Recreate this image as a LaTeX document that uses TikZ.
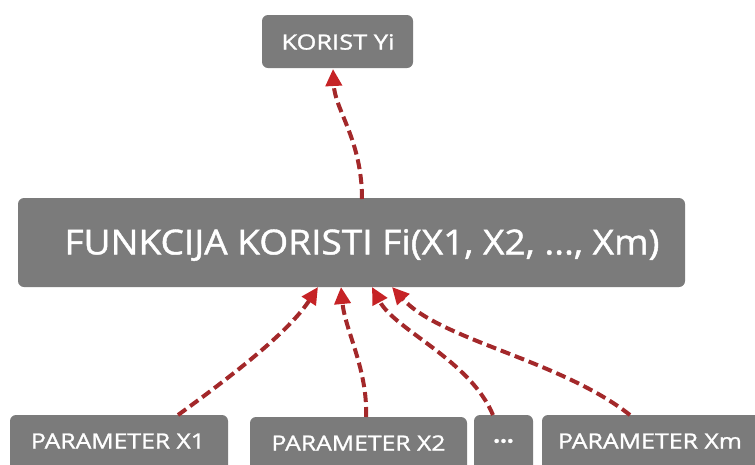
\documentclass[tikz,border=0pt]{standalone}
\usepackage{fontspec}
\setmainfont{Open Sans}
\newfontfamily\semi[FakeBold=1.2]{Open Sans}
\usetikzlibrary{arrows.meta}
\definecolor{boxgray}{HTML}{7B7B7B}
\definecolor{arrred}{HTML}{A3282A}
\definecolor{tipred}{HTML}{C62326}
\newcommand{\fitw}[3]{\resizebox{#1}{\height}{\semi\fontsize{#2}{#2}\selectfont #3}}
\tikzset{
  gbox/.style={fill=boxgray, rounded corners=6pt},
  lbl/.style={text=white, inner sep=0pt},
  conn/.style={draw=arrred, line width=4pt, dash pattern=on 10pt off 5pt,
     -{Triangle[length=17pt,width=16pt,fill=tipred,color=tipred]}},
}
\begin{document}
\begin{tikzpicture}[x=1pt,y=-1pt]
\useasboundingbox (0,0) rectangle (755,464);
% boxes
\fill[gbox] (262,15) rectangle (413,68);
\node[lbl] (top) at (338,42) {\fitw{113pt}{21pt}{KORIST Yi}};
\fill[gbox] (18,198) rectangle (685,287);
\node[lbl] (main) at (362,245) {\fitw{595pt}{34.5pt}{FUNKCIJA KORISTI Fi(X1, X2, ..., Xm)}};
\fill[gbox] (10,415) rectangle (228,475);
\node[lbl] (p1) at (118,441) {\fitw{174pt}{21pt}{PARAMETER X1}};
\fill[gbox] (250,417) rectangle (467,475);
\node[lbl] (p2) at (358.5,443) {\fitw{174pt}{21pt}{PARAMETER X2}};
\fill[gbox] (474,415) rectangle (533,475);
\node[lbl] (pd) at (503.5,441) {\semi\fontsize{24pt}{24pt}\selectfont\bfseries ...};
\fill[gbox] (542,415) rectangle (760,475);
\node[lbl] (pm) at (650,441) {\fitw{184pt}{21pt}{PARAMETER Xm}};
% anchors
\coordinate (tb) at (333,69);
\coordinate (ms) at (362,199);
\coordinate (t1) at (318,287);
\coordinate (t2) at (341,287);
\coordinate (t3) at (372,287);
\coordinate (t4) at (392,287);
\coordinate (s1) at (178,415);
\coordinate (s2) at (366,417);
\coordinate (s3) at (493,415);
\coordinate (s4) at (630,415);
% connectors
\draw[conn] (ms) .. controls (362,140) and (335,110) .. (tb);
\draw[conn] (s1) .. controls (240,370) and (290,330) .. (t1);
\draw[conn] (s2) .. controls (368,370) and (345,330) .. (t2);
\draw[conn] (s3) .. controls (470,360) and (395,330) .. (t3);
\draw[conn] (s4) .. controls (560,360) and (440,340) .. (t4);
\end{tikzpicture}
\end{document}
